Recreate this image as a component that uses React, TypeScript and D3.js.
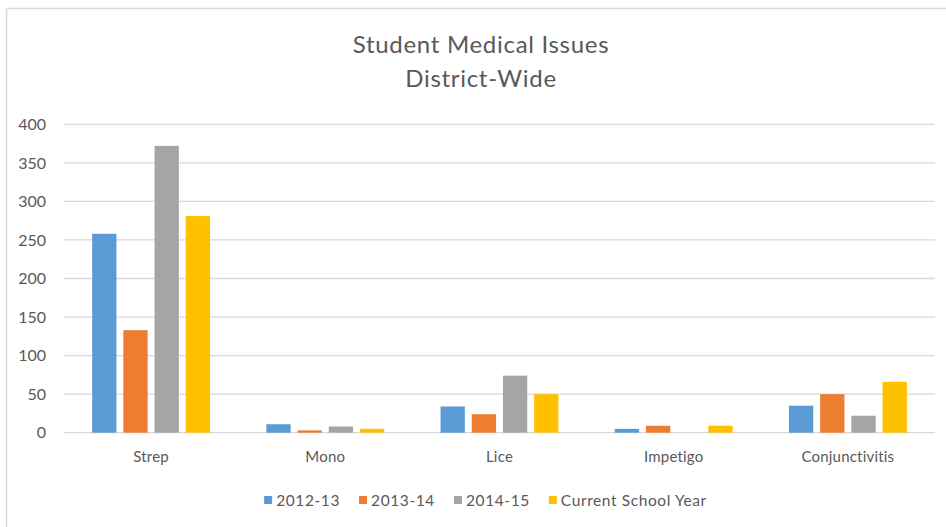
import React, { useEffect, useRef } from "react";
import * as d3 from "d3";

const categories = ["Strep", "Mono", "Lice", "Impetigo", "Conjunctivitis"];
const seriesNames = ["2012-13", "2013-14", "2014-15", "Current School Year"];
const values2012 = [258, 11, 34, 5, 35];
const values2013 = [133, 3, 24, 9, 50];
const values2014 = [372, 8, 74, 0, 22];
const valuesCurrent = [281, 5, 50, 9, 66];
const seriesValues = [values2012, values2013, values2014, valuesCurrent];
const colors = ["#5B9BD5", "#ED7D31", "#A5A5A5", "#FFC000"];
const yTicks = [0, 50, 100, 150, 200, 250, 300, 350, 400];
const titleLines = ["Student Medical Issues", "District-Wide"];

const W = 946;
const H = 527;
const FONT = "Lato, 'Open Sans', sans-serif";
const TEXT = "#595959";

export default function App() {
  const ref = useRef<SVGSVGElement>(null);

  useEffect(() => {
    const svg = d3.select(ref.current);
    svg.selectAll("*").remove();

    // frame (top + left)
    svg.append("line").attr("x1", 6.5).attr("x2", W).attr("y1", 8.5).attr("y2", 8.5)
      .attr("stroke", "#D9D9D9").attr("stroke-width", 1.5);
    svg.append("line").attr("x1", 6.5).attr("x2", 6.5).attr("y1", 8.5).attr("y2", H)
      .attr("stroke", "#D9D9D9").attr("stroke-width", 1.5);

    const left = 64, right = 935, top = 124.3, bottom = 432.7;
    const y = d3.scaleLinear().domain([0, 400]).range([bottom, top]);
    const x0 = d3.scaleBand<string>().domain(categories).range([left, right]);
    const groupW = 117.9;
    const off = (x0.bandwidth() - groupW) / 2;
    const x1 = d3.scaleBand<string>().domain(seriesNames).range([off, off + groupW]).paddingInner(0.221);

    // gridlines
    svg.append("g").selectAll("line").data(yTicks).join("line")
      .attr("x1", left).attr("x2", right)
      .attr("y1", (d) => y(d)).attr("y2", (d) => y(d))
      .attr("stroke", "#D9D9D9").attr("stroke-width", 1.3);

    // y tick labels
    svg.append("g").selectAll("text").data(yTicks).join("text")
      .attr("x", 46).attr("y", (d) => y(d)).attr("dy", "0.36em")
      .attr("text-anchor", "end").attr("font-family", FONT).attr("font-size", 16)
      .attr("fill", TEXT).text((d) => String(d));

    // bars
    seriesNames.forEach((s, si) => {
      svg.append("g").selectAll("rect").data(seriesValues[si]).join("rect")
        .attr("x", (_d, i) => (x0(categories[i]) as number) + (x1(s) as number))
        .attr("width", x1.bandwidth())
        .attr("y", (d) => y(d))
        .attr("height", (d) => y(0) - y(d))
        .attr("fill", colors[si]);
    });

    // category labels
    svg.append("g").selectAll("text").data(categories).join("text")
      .attr("x", (d) => (x0(d) as number) + x0.bandwidth() / 2)
      .attr("y", 462).attr("text-anchor", "middle")
      .attr("font-family", FONT).attr("font-size", 15).attr("letter-spacing", 0.2).attr("fill", TEXT)
      .text((d) => d);

    // title
    svg.append("g").selectAll("text").data(titleLines).join("text")
      .attr("x", 481).attr("y", (_d, i) => 53 + i * 34)
      .attr("text-anchor", "middle").attr("font-family", FONT).attr("font-size", 24)
      .attr("letter-spacing", 0.7)
      .attr("fill", TEXT).text((d) => d);

    // legend
    const lg = svg.append("g");
    const items = lg.selectAll("g").data(seriesNames).join("g");
    items.append("rect").attr("width", 8).attr("height", 8).attr("y", 496)
      .attr("fill", (_d, i) => colors[i]);
    const texts = items.append("text").attr("x", 12).attr("y", 506)
      .attr("font-family", FONT).attr("font-size", 15.5).attr("letter-spacing", 0.6)
      .attr("fill", TEXT)
      .text((d) => d);
    const widths: number[] = [];
    texts.each(function () { widths.push((this as SVGTextElement).getComputedTextLength()); });
    const spacing = 19;
    let total = 0;
    widths.forEach((w, i) => { total += 12 + w + (i < widths.length - 1 ? spacing : 0); });
    let cx = 485.5 - total / 2;
    items.each(function (_d, i) {
      d3.select(this).attr("transform", `translate(${cx},0)`);
      cx += 12 + widths[i] + spacing;
    });
  }, []);

  return (
    <svg ref={ref} width={W} height={H}
      style={{ position: "absolute", left: 0, top: 0, background: "#fff" }} />
  );
}
